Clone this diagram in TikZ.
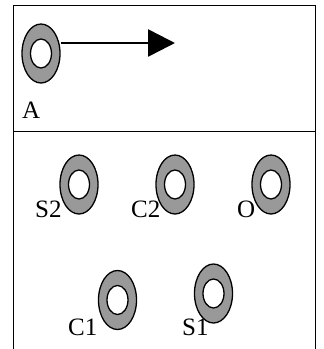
\documentclass[tikz,border=0pt]{standalone}
\usepackage{fontspec}
\setmainfont{Liberation Serif}
\usetikzlibrary{shapes.geometric,arrows.meta}

\tikzset{
  ring/.style={ellipse, draw, line width=1.3pt, fill=black!40, inner sep=0pt,
    minimum width=38pt, minimum height=59pt,
    path picture={\draw[line width=1.3pt, fill=white] (path picture bounding box.center) ellipse (10.5pt and 14.5pt);}},
  lbl/.style={anchor=base west, inner sep=0pt, font=\fontsize{25}{29}\selectfont},
  frame/.style={line width=1pt}
}

\begin{document}
\begin{tikzpicture}[x=1pt, y=-1pt]
\useasboundingbox (0,0) rectangle (324,349);

% Frame
\draw[frame] (13,349) -- (13,5) -- (315,5) -- (315,349);
\draw[frame] (13,131) -- (315,131);

% Define nodes
\node[ring] (a)  at (41,53.5)   {};
\node[ring] (s2) at (79,184.5)  {};
\node[ring] (c2) at (175,184.5) {};
\node[ring] (o)  at (271,184.5) {};
\node[ring] (c1) at (117.5,300) {};
\node[ring] (s1) at (213.5,293.5) {};
\coordinate (tip) at (175,43);

% Labels
\node[lbl] (la)  at (22,118)  {A};
\node[lbl] (ls2) at (35,217)  {S2};
\node[lbl] (lc2) at (131,217) {C2};
\node[lbl] (lo)  at (237,217) {O};
\node[lbl] (lc1) at (68,335)  {C1};
\node[lbl] (ls1) at (182,335) {S1};

% Connect the nodes
\draw[line width=2.6pt, -{Triangle[length=27pt, width=27pt]}] (a.east |- tip) -- (tip);

\end{tikzpicture}
\end{document}
